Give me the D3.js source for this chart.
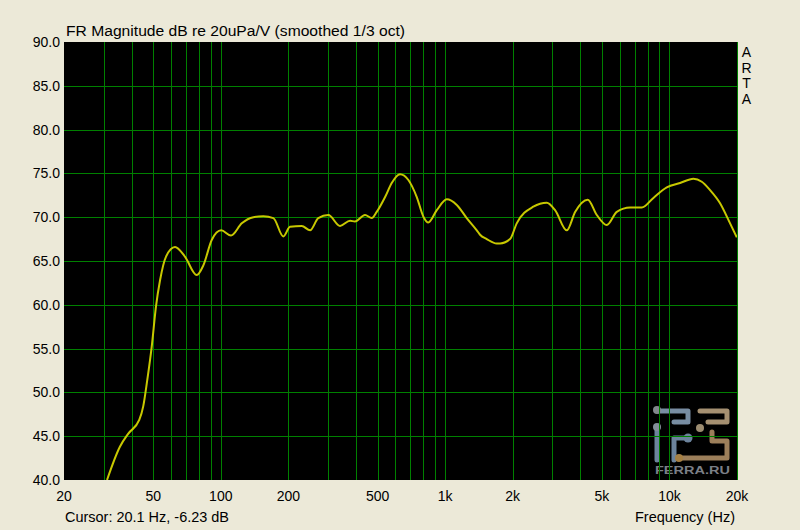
<!DOCTYPE html>
<html><head><meta charset="utf-8">
<script src="https://cdn.jsdelivr.net/npm/d3@7"></script>
<style>
html,body{margin:0;padding:0;background:#ECE9D8;}
svg text{font-family:Arial,"Liberation Sans",sans-serif;fill:#000;}
</style></head><body>
<svg id="c" width="800" height="530"></svg>
<script>
const freqs = [31.1,35.5,38.7,43.3,45.1,47.0,49.2,51.4,53.6,57.0,62.5,69.2,78.1,83.6,91.1,100.4,111,124,139.7,154.8,171.5,190,203.5,229.5,250,272,301.6,340,376.8,396,439.5,470.8,495.5,540,578,629.5,685.7,747.5,800,841,918,1017,1127,1248,1384,1431,1533,1699,1757,1947,2085,2474,2839,3091,3486,3796,4323,4743,5256,5823,6675,7527,8479,9727,11150,12787,13935,15170,16810,18630,19960];
const dbValues = [40.0,43.8,45.3,46.85,48.4,51.4,55.2,59.8,62.8,65.5,66.6,65.5,63.4,64.5,67.4,68.5,67.9,69.3,70.0,70.1,69.9,67.8,68.9,69.0,68.5,69.9,70.25,69.0,69.6,69.5,70.25,69.9,70.6,72.3,73.9,74.9,74.25,72.3,70.06,69.4,70.8,72.05,71.4,69.9,68.5,68.0,67.5,67.0,67.0,67.5,69.3,71.2,71.65,70.8,68.5,70.6,72.0,70.25,69.1,70.6,71.1,71.1,72.2,73.4,73.9,74.4,74.05,73.1,71.6,69.3,67.7];
const xGrid = [30,40,50,60,70,80,90,100,200,300,400,500,600,700,800,900,1000,2000,3000,4000,5000,6000,7000,8000,9000,10000,20000];
const xTickVals = [20,50,100,200,500,1000,2000,5000,10000,20000];
const xTickLabels = ["20","50","100","200","500","1k","2k","5k","10k","20k"];
const yTicks = [40,45,50,55,60,65,70,75,80,85,90];
const title = "FR Magnitude dB re 20uPa/V (smoothed 1/3 oct)";
const cursorText = "Cursor: 20.1 Hz, -6.23 dB";
const xLabel = "Frequency (Hz)";
const brand = ["A","R","T","A"];

const L=64,R=737,T=42,B=480;
const svg=d3.select("#c");
const x=d3.scaleLog().domain([20,20000]).range([L,R]);
const y=d3.scaleLinear().domain([40,90]).range([B,T]);

svg.append("rect").attr("x",L).attr("y",T).attr("width",R-L).attr("height",B-T).attr("fill","#000");

// logo watermark
const lg=svg.append("g").attr("fill","none").attr("stroke-width",5).attr("stroke-linecap","round").attr("stroke-linejoin","round").attr("opacity",0.85);
lg.append("path").attr("d","M657,411 H688 V422 H674").attr("stroke","#8ea6bf");
lg.append("path").attr("d","M657,427 V460").attr("stroke","#7f9bb8");
lg.append("path").attr("d","M688,438 H674 V460").attr("stroke","#7f9bb8");
lg.append("path").attr("d","M700,411 H727 V422 H708").attr("stroke","#c2aa85");
lg.append("path").attr("d","M712,432 V441 H727 V458 H680").attr("stroke","#b8966a");
lg.append("circle").attr("cx",657).attr("cy",410).attr("r",4).attr("fill","#9a9fa6");
lg.append("circle").attr("cx",657).attr("cy",427).attr("r",4).attr("fill","#9aa6b4");
lg.append("circle").attr("cx",688).attr("cy",438).attr("r",4.5).attr("fill","#7f9bb8");
lg.append("circle").attr("cx",700).attr("cy",428).attr("r",4).attr("fill","#b8a584");
lg.append("circle").attr("cx",679).attr("cy",458).attr("r",4).attr("fill","#c2964f");
svg.append("text").attr("x",655).attr("y",474).attr("font-size",11).attr("font-weight","bold")
 .attr("textLength",75).attr("lengthAdjust","spacingAndGlyphs").style("fill","#7b7f86").text("FERRA.RU");

// grid
const g=svg.append("g").attr("stroke","#008000").attr("stroke-width",1).attr("shape-rendering","crispEdges");
g.selectAll("line.v").data(xGrid).join("line").attr("class","v")
 .attr("x1",d=>Math.round(x(d))+0.5).attr("x2",d=>Math.round(x(d))+0.5).attr("y1",T).attr("y2",B);
g.selectAll("line.h").data(yTicks.slice(1,-1)).join("line").attr("class","h")
 .attr("y1",d=>Math.round(y(d))+0.5).attr("y2",d=>Math.round(y(d))+0.5).attr("x1",L).attr("x2",R);

// curve
const data=freqs.map((f,i)=>[f,dbValues[i]]);
svg.append("defs").append("clipPath").attr("id","clip").append("rect").attr("x",L).attr("y",T).attr("width",R-L).attr("height",B-T);
svg.append("path").datum(data).attr("clip-path","url(#clip)")
 .attr("d",d3.line().x(d=>x(d[0])).y(d=>y(d[1])).curve(d3.curveMonotoneX))
 .attr("fill","none").attr("stroke","#c8c800").attr("stroke-width",2);

// y labels
svg.selectAll("text.yl").data(yTicks).join("text").attr("class","yl")
 .attr("x",60).attr("y",d=>y(d)+5).attr("text-anchor","end").attr("font-size",14).text(d=>d.toFixed(1));
// x labels
svg.selectAll("text.xl").data(xTickVals).join("text").attr("class","xl")
 .attr("x",d=>x(d)).attr("y",501).attr("text-anchor","middle").attr("font-size",14).text((d,i)=>xTickLabels[i]);

svg.append("text").attr("x",66).attr("y",36).attr("font-size",15.5)
 .attr("textLength",339).attr("lengthAdjust","spacingAndGlyphs").text(title);
svg.append("text").attr("x",65).attr("y",522).attr("font-size",14)
 .attr("textLength",164).attr("lengthAdjust","spacingAndGlyphs").text(cursorText);
svg.append("text").attr("x",635).attr("y",522).attr("font-size",14)
 .attr("textLength",100).attr("lengthAdjust","spacingAndGlyphs").text(xLabel);
svg.selectAll("text.br").data(brand).join("text").attr("class","br")
 .attr("x",746.5).attr("y",(d,i)=>57+i*15.7).attr("text-anchor","middle").attr("font-size",14).text(d=>d);
</script>
</body></html>
